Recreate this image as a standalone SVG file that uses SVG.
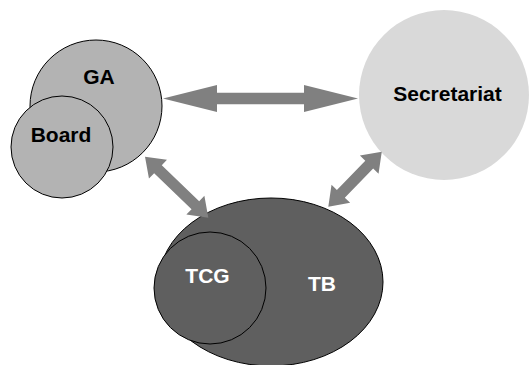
<svg xmlns="http://www.w3.org/2000/svg" width="531" height="365" viewBox="0 0 531 365">
<style>
.lbl{font-family:"Liberation Sans",Arial,sans-serif;font-weight:bold;font-size:21px;text-anchor:middle}
.arrow{fill:#808080}
.mid{fill:#b3b3b3;stroke:#000;stroke-width:1}
.dark{fill:#5f5f5f;stroke:#000;stroke-width:1}
</style>
<rect width="531" height="365" fill="#fff"/>
<g id="GA">
<circle class="mid" cx="96" cy="106" r="66"/>
<text class="lbl" x="99" y="84">GA</text>
</g>
<g id="Board">
<circle class="mid" cx="62" cy="147" r="51"/>
<text class="lbl" x="61" y="141.5">Board</text>
</g>
<g id="Secretariat">
<circle cx="444" cy="95" r="85" fill="#d9d9d9"/>
<text class="lbl" x="447.5" y="100.5">Secretariat</text>
</g>
<g id="TB">
<ellipse class="dark" cx="271" cy="282" rx="112" ry="84"/>
<text class="lbl" x="322" y="290.5" fill="#fff">TB</text>
</g>
<g id="TCG">
<circle class="dark" cx="210" cy="288" r="56"/>
<text class="lbl" x="207.5" y="282.5" fill="#fff">TCG</text>
</g>
<g id="connectors">
<polygon class="arrow" transform="translate(163,98.5)" points="0,0 54,-13.5 54,-5.75 141,-5.75 141,-13.5 195,0 141,13.5 141,5.75 54,5.75 54,13.5"/>
<polygon class="arrow" transform="translate(145,156.7) rotate(43.9)" points="0,0 18,-13 18,-5.5 69.9,-5.5 69.9,-13 87.9,0 69.9,13 69.9,5.5 18,5.5 18,13"/>
<polygon class="arrow" transform="translate(328.3,206.7) rotate(-45.8)" points="0,0 18,-13 18,-5.5 58.7,-5.5 58.7,-13 76.7,0 58.7,13 58.7,5.5 18,5.5 18,13"/>
</g>
</svg>
